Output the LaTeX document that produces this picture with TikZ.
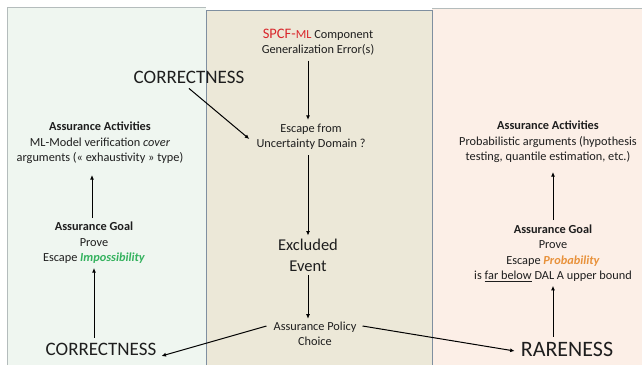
\documentclass[tikz,border=0pt]{standalone}
\usepackage{fontspec}
\setmainfont{Carlito}
\usetikzlibrary{arrows.meta}
\definecolor{panelGreen}{HTML}{EFF6F0}
\definecolor{panelBeige}{HTML}{ECE8D8}
\definecolor{panelSalmon}{HTML}{FCEFE7}
\definecolor{panelLine}{HTML}{B4BCBC}
\definecolor{centerLine}{HTML}{7F8FA0}
\definecolor{spcfRed}{HTML}{D9262B}
\definecolor{impGreen}{HTML}{34B25E}
\definecolor{probOrange}{HTML}{E8913A}
\definecolor{inkGrey}{HTML}{1E1E1E}
\newcommand{\keyWord}[2]{\textcolor{#1}{\textbf{\textit{#2}}}}
\newcommand{\bigFont}{\fontsize{19}{22}\selectfont}
\tikzset{
  txt/.style={align=center, inner sep=1pt, text=inkGrey, font=\fontsize{12.3}{15.5}\selectfont},
  bigtxt/.style={align=center, inner sep=1pt, text=inkGrey, font=\bigFont},
  flow/.style={-{Latex[length=4.5pt,width=4pt]}, line width=1pt, black}
}

\begin{document}
\begin{tikzpicture}[x=1pt,y=-1pt]
\useasboundingbox (0,0) rectangle (642,365);
% panels
\fill[white] (0,0) rectangle (642,365);
\fill[panelGreen] (7,7) rectangle (206,365);
\draw[panelLine] (7,365) -- (7,7) -- (206,7);
\fill[panelSalmon] (432,8) rectangle (642,365);
\draw[panelLine] (432,8) -- (642,8);
\filldraw[fill=panelBeige, draw=centerLine, line width=0.8pt] (206,365) -- (206,10) -- (432,10) -- (432,365);

% centre column
\node[txt] (spcf) at (318,42) {{\color{spcfRed}\fontsize{14.5}{15.5}\selectfont SPCF-{\fontsize{12.3}{15.5}\selectfont ML}} Component\\Generalization Error(s)};
\node[txt] (escape) at (311,137) {Escape from\\Uncertainty Domain ?};
\node[align=center, inner sep=1pt, text=inkGrey, font=\fontsize{16.5}{21}\selectfont] (excluded) at (308,255) {Excluded\\Event};
\node[txt] (policy) at (315,334) {Assurance Policy\\Choice};
\node[bigtxt] (topCorr) at (189,77) {CORRECTNESS};

% left column
\node[txt] (leftAct) at (100,143) {\textbf{Assurance Activities}\\ML-Model verification \textit{cover}\\arguments (« exhaustivity » type)};
\node[txt] (leftGoal) at (94,243) {\textbf{Assurance Goal}\\Prove\\Escape \keyWord{impGreen}{Impossibility}};
\node[bigtxt] (leftCorr) at (101,349) {CORRECTNESS};

% right column
\node[txt] (rightAct) at (548,142) {\textbf{Assurance Activities}\\Probabilistic arguments (hypothesis\\testing, quantile estimation, etc.)};
\node[txt] (rightGoal) at (553,253) {\textbf{Assurance Goal}\\Prove\\Escape \keyWord{probOrange}{Probability}\\is \underline{far below} DAL A upper bound};
\node[bigtxt, font=\fontsize{22}{24}\selectfont] (rare) at (567,349) {RARENESS};

% connectors
\draw[flow] ([yshift=-4pt]spcf.south -| excluded) -- ([yshift=3pt]escape.north -| excluded);
\draw[flow] ([yshift=-4pt]escape.south -| excluded) -- ([yshift=2pt]excluded.north);
\draw[flow] ([yshift=-3pt]excluded.south) -- ([yshift=2pt]policy.north -| excluded);
\draw[flow] ([yshift=-4pt]topCorr.south) -- ([xshift=-6pt,yshift=-2pt]escape.west);
\draw[flow] ([xshift=-6pt,yshift=8pt]policy.west) -- ([xshift=4pt,yshift=-7pt]leftCorr.east);
\draw[flow] ([xshift=5pt,yshift=8pt]policy.east) -- ([xshift=-5pt,yshift=-2pt]rare.west);
\draw[flow] ([yshift=4pt]leftCorr.north -| leftGoal) -- ([yshift=-3pt]leftGoal.south);
\draw[flow] ([yshift=3pt]leftGoal.north -| 92,0) -- ([yshift=-10pt]leftAct.south -| 92,0);
\draw[flow] ([yshift=4pt]rare.north -| rightGoal) -- ([yshift=-3pt]rightGoal.south);
\draw[flow] ([yshift=3pt]rightGoal.north) -- ([yshift=-8pt]rightAct.south -| rightGoal);
\end{tikzpicture}
\end{document}
